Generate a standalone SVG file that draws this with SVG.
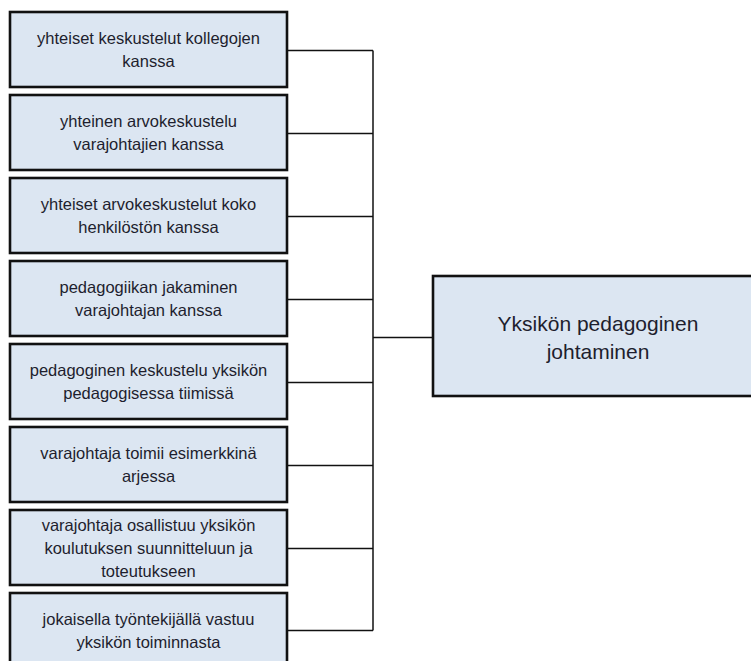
<svg xmlns="http://www.w3.org/2000/svg" width="751" height="661" viewBox="0 0 751 661">
  <style>
    .box { fill: #dce6f2; stroke: #111; stroke-width: 2.6; }
    .lbl { font-family: "Liberation Sans", Arial, sans-serif; font-size: 16.5px; fill: #1e1e2e; text-anchor: middle; }
    .main { font-family: "Liberation Sans", Arial, sans-serif; font-size: 21px; fill: #1e1e2e; text-anchor: middle; }
    .wire { fill: none; stroke: #111; stroke-width: 1.5; }
  </style>
  <rect width="751" height="661" fill="#fff"/>

  <!-- connectors: each item joins a shared bus that feeds the main box -->
  <g id="connectors">
    <path class="wire" d="M287 50.5 H373 M287 133.5 H373 M287 216.5 H373 M287 299.5 H373 M287 382.5 H373 M287 465.5 H373 M287 548.5 H373 M287 630.5 H373"/>
    <path class="wire" d="M373 50.5 V630.5"/>
    <path class="wire" d="M373 337.5 H433"/>
  </g>

  <g id="n1">
    <rect class="box" x="10" y="12" width="277" height="75"/>
    <text class="lbl" x="148.5" y="44">yhteiset keskustelut kollegojen</text>
    <text class="lbl" x="148.5" y="67">kanssa</text>
  </g>
  <g id="n2">
    <rect class="box" x="10" y="95" width="277" height="75"/>
    <text class="lbl" x="148.5" y="127">yhteinen arvokeskustelu</text>
    <text class="lbl" x="148.5" y="150">varajohtajien kanssa</text>
  </g>
  <g id="n3">
    <rect class="box" x="10" y="178" width="277" height="75"/>
    <text class="lbl" x="148.5" y="210">yhteiset arvokeskustelut koko</text>
    <text class="lbl" x="148.5" y="233">henkilöstön kanssa</text>
  </g>
  <g id="n4">
    <rect class="box" x="10" y="261" width="277" height="75"/>
    <text class="lbl" x="148.5" y="293">pedagogiikan jakaminen</text>
    <text class="lbl" x="148.5" y="316">varajohtajan kanssa</text>
  </g>
  <g id="n5">
    <rect class="box" x="10" y="344" width="277" height="75"/>
    <text class="lbl" x="148.5" y="376">pedagoginen keskustelu yksikön</text>
    <text class="lbl" x="148.5" y="399">pedagogisessa tiimissä</text>
  </g>
  <g id="n6">
    <rect class="box" x="10" y="427" width="277" height="75"/>
    <text class="lbl" x="148.5" y="459">varajohtaja toimii  esimerkkinä</text>
    <text class="lbl" x="148.5" y="482">arjessa</text>
  </g>
  <g id="n7">
    <rect class="box" x="10" y="510" width="277" height="75"/>
    <text class="lbl" x="148.5" y="531">varajohtaja osallistuu  yksikön</text>
    <text class="lbl" x="148.5" y="554">koulutuksen suunnitteluun ja</text>
    <text class="lbl" x="148.5" y="577">toteutukseen</text>
  </g>
  <g id="n8">
    <rect class="box" x="10" y="593" width="277" height="75"/>
    <text class="lbl" x="148.5" y="625">jokaisella työntekijällä vastuu</text>
    <text class="lbl" x="148.5" y="648">yksikön toiminnasta</text>
  </g>

  <g id="main">
    <rect class="box" x="433" y="276" width="330" height="120"/>
    <text class="main" x="598" y="331">Yksikön pedagoginen</text>
    <text class="main" x="598" y="359">johtaminen</text>
  </g>
</svg>
